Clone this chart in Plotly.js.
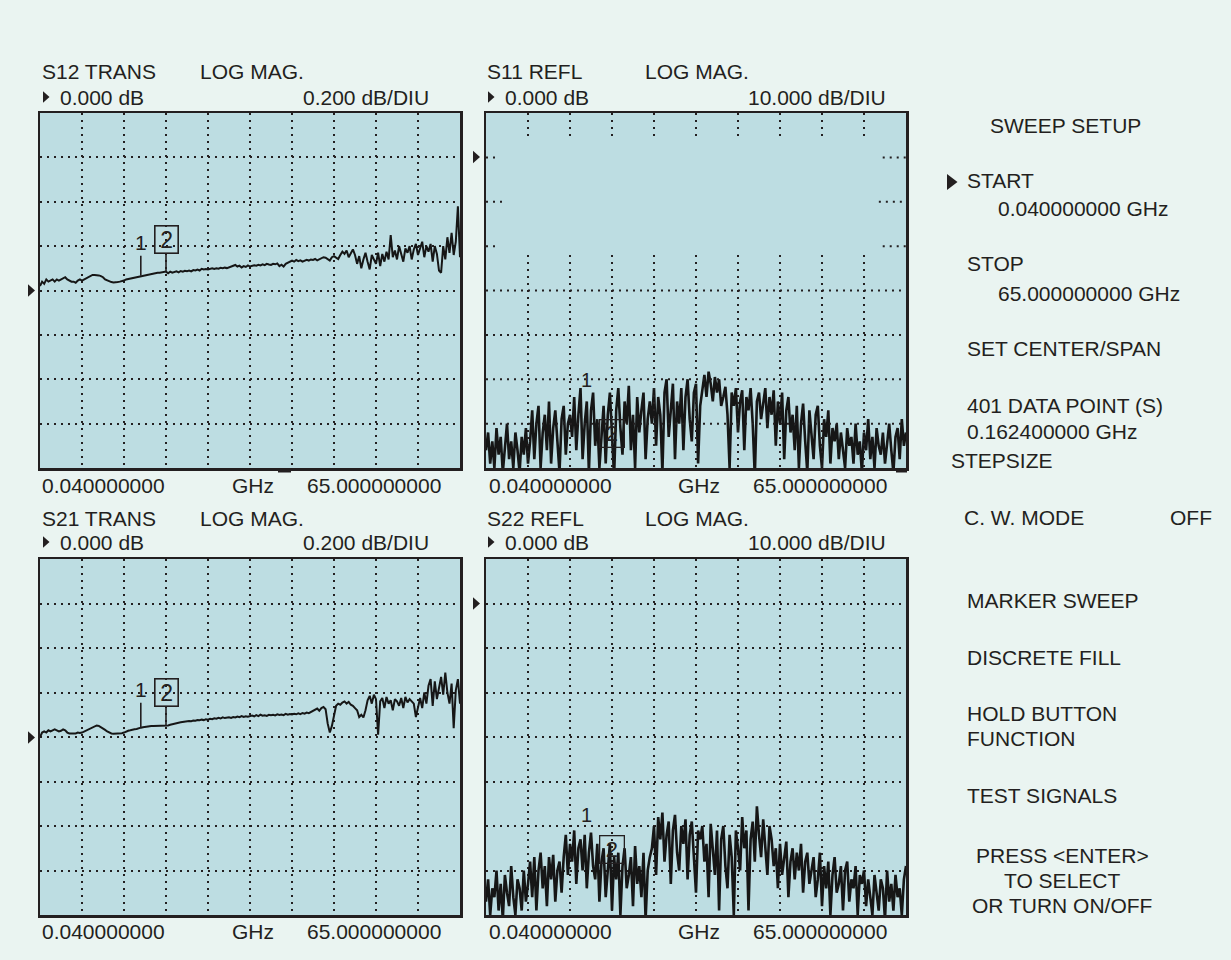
<!DOCTYPE html>
<html>
<head>
<meta charset="utf-8">
<script src="https://cdn.plot.ly/plotly-3.0.1.min.js"></script>
<style>
html,body{margin:0;padding:0;background:#eaf4f1;}
#chart{width:1231px;height:960px;}
</style>
</head>
<body>
<div id="chart"></div>
<script>
// ---- sweep definition ----
const START_GHZ = 0.04;
const STOP_GHZ = 65.0;
const NPTS = 201;

// marker frequencies (GHz)
const MARKER_FREQS = [15.63, 19.53];

// ---- traces (dB) ----
const s12 = [
0.02,0.04,0.03,0.05,0.04,0.045,0.05,0.04,0.05,0.045,0.05,
0.055,0.06,0.05,0.045,0.04,0.04,0.035,0.045,0.05,0.045,
0.05,0.055,0.06,0.065,0.07,0.07,0.07,0.068,0.065,0.06,
0.05,0.045,0.04,0.038,0.036,0.036,0.038,0.04,0.042,0.045,
0.05,0.052,0.055,0.058,0.06,0.062,0.065,0.066,0.068,0.07,
0.072,0.074,0.075,0.076,0.078,0.08,0.08,0.082,0.083,0.085,
0.078,0.085,0.08,0.083,0.086,0.082,0.088,0.085,0.089,0.087,
0.09,0.086,0.092,0.09,0.094,0.09,0.098,0.095,0.097,0.095,
0.098,0.1,0.097,0.1,0.098,0.102,0.1,0.103,0.101,0.104,
0.106,0.11,0.115,0.108,0.112,0.104,0.11,0.106,0.113,0.108,
0.11,0.114,0.112,0.116,0.113,0.118,0.114,0.12,0.117,0.115,
0.12,0.118,0.122,0.11,0.116,0.108,0.12,0.125,0.13,0.135,
0.13,0.138,0.132,0.136,0.13,0.134,0.138,0.135,0.14,0.138,
0.142,0.136,0.14,0.145,0.15,0.148,0.14,0.135,0.15,0.155,
0.148,0.142,0.16,0.175,0.165,0.18,0.15,0.17,0.185,0.16,
0.12,0.155,0.1,0.14,0.17,0.13,0.095,0.16,0.14,0.12,
0.17,0.11,0.165,0.13,0.175,0.14,0.25,0.15,0.18,0.14,
0.2,0.16,0.13,0.19,0.17,0.2,0.14,0.185,0.21,0.16,
0.19,0.22,0.15,0.2,0.175,0.21,0.13,0.2,0.165,0.09,
0.08,0.2,0.14,0.24,0.17,0.26,0.16,0.22,0.38,0.15
];

const s21 = [
0.0,0.02,0.025,0.02,0.03,0.025,0.03,0.034,0.03,0.025,0.028,
0.034,0.03,0.02,0.016,0.016,0.018,0.016,0.02,0.018,0.02,
0.025,0.03,0.035,0.04,0.045,0.05,0.052,0.05,0.045,0.04,
0.032,0.025,0.02,0.016,0.015,0.015,0.016,0.015,0.017,0.02,
0.025,0.028,0.03,0.034,0.035,0.036,0.04,0.042,0.044,0.046,
0.048,0.049,0.049,0.05,0.05,0.049,0.05,0.05,0.049,0.05,
0.052,0.055,0.058,0.06,0.062,0.064,0.066,0.068,0.069,0.07,
0.072,0.071,0.074,0.073,0.076,0.075,0.078,0.076,0.08,0.078,
0.082,0.08,0.084,0.082,0.086,0.083,0.088,0.085,0.087,0.089,
0.086,0.09,0.088,0.092,0.089,0.094,0.09,0.093,0.091,0.094,
0.096,0.093,0.098,0.094,0.1,0.096,0.098,0.095,0.1,0.098,
0.1,0.097,0.102,0.099,0.101,0.098,0.104,0.1,0.103,0.101,
0.104,0.102,0.106,0.103,0.108,0.105,0.11,0.107,0.112,0.116,
0.12,0.128,0.118,0.13,0.135,0.125,0.06,0.02,0.05,0.1,
0.14,0.15,0.145,0.155,0.16,0.15,0.158,0.145,0.14,0.13,
0.12,0.09,0.1,0.088,0.12,0.165,0.185,0.15,0.19,0.17,
0.01,0.16,0.175,0.13,0.18,0.15,0.165,0.12,0.17,0.16,
0.14,0.175,0.13,0.18,0.155,0.17,0.16,0.15,0.09,0.14,
0.175,0.13,0.2,0.15,0.23,0.26,0.14,0.25,0.17,0.22,
0.27,0.19,0.29,0.2,0.15,0.24,0.04,0.21,0.26,0.15
];

const s11 = [
-66,-62,-69,-64,-70,-61,-67,-63,-71,-65,-60,-68,-64,-70,-62,-66,-71,-63,-67,-61,-69,
-64,-57,-68,-60,-56,-70,-62,-58,-66,-55,-69,-61,-57,-65,-71,-59,-56,-67,-60,-58,
-63,-54,-66,-58,-52,-68,-60,-55,-71,-57,-53,-65,-59,-70,-62,
-56,-69,-58,-53,-64,-72,-57,-52,-61,-67,-55,-60,-51.5,-66,-58,-70,-54,-62,-57,-53,-68,-59,-55,
-60,-52,-65,-54,-58,-71,-53,-50,-63,-57,-51,-68,-55,-60,-52,-66,-54,-50,-59,-64,-53,-51,-69,-56,
-52,-49,-54,-48.3,-51,-55,-49.5,-53,-50,-56,
-54,-51.7,-58,-70,-53,-56,-52,-62,-55,-52.5,-66,-54,-57,-52,-60,-72,-55,-53,-59,
-56,-52,-61,-54,-58,-52.5,-65,-55,-60,-53,-68,-57,-54,-62,
-58,-66,-56,-70,-60,-55.5,-64,-71,-57,-62,-68,-58,-56,-65,-70,-59,-63,-57,-69,-61,
-64,-60,-68,-62,-66,-70,-61,-65,-63,-69,-60,-67,-64,-71,-62,-66,-59,-68,-63,-70,
-61,-65,-67,-62,-69,-64,-60,-66,-71,-63,-61,-68,-59,-65,-62
];

const s22 = [
-67,-62,-70,-64,-66,-60,-69,-63,-71,-61,-65,-68,-59,-66,-70,-62,-64,-69,-60,-67,-63,
-58,-66,-57,-69,-60,-56,-64,-59,-68,-57,-62,-56.5,-67,-60,-58,-65,-57,
-52,-61,-54,-58,-51,-63,-55,-53,-60,-52,-64,-56,-51.5,-59,-62,-54,-67,
-58,-55,-66,-60,-54,-69,-57,-62,-56,-70,-59,-55,-64,-61,-57,-68,-54.5,-63,-59,-66,-56,-71,-60,-57,
-55,-50,-61,-48,-53,-47,-58,-52,-49,-63,-51,-47.5,-56,-60,-50,-54,-48.5,-62,-52,-49,-57,-65,-51,-53,
-50,-58,-54,-66,-49.5,-56,-61,-51,-69,-53,-50,-59,-64,-52,-57,-70,-51,-55,-60,
-48,-55,-51,-69,-53,-49,-58,-45.6,-52,-57,-48.5,-54,-61,-50,
-53,-59,-55,-64,-54,-61,-57,-53.5,-66,-58,-55,-62,-56,-60,-54,-65,-58,-56,-63,
-60,-57,-66,-62,-56,-68,-59,-64,-58,-70,-61,-57,-65,-63,-59,-69,-60,-58,-67,-62,-64,-59,-70,-61,
-63,-60,-68,-62,-66,-70,-61,-65,-69,-62,-64,-71,-60,-67,-63,-69,-61,-66,-64,-70,-62,-59
];

// ---- panel texts ----
const PANEL_TITLES = ['S12 TRANS','S11 REFL','S21 TRANS','S22 REFL'];
const PANEL_FORMAT = 'LOG MAG.';
const PANEL_REF = '0.000 dB';
const PANEL_SCALE = ['0.200 dB/DIU','10.000 dB/DIU','0.200 dB/DIU','10.000 dB/DIU'];
const X_LABELS = ['0.040000000','GHz','65.000000000'];

const MENU_ITEMS = [
 ['SWEEP SETUP',988,125],
 ['START',965,181],
 ['0.040000000 GHz',996,208],
 ['STOP',965,263],
 ['65.000000000 GHz',996,293],
 ['SET CENTER/SPAN',965,348],
 ['401 DATA POINT (S)',965,405],
 ['0.162400000 GHz',965,432],
 ['STEPSIZE',949,460],
 ['C. W. MODE',962,517],
 ['OFF',1168,517],
 ['MARKER SWEEP',965,600],
 ['DISCRETE FILL',965,657],
 ['HOLD BUTTON',965,713],
 ['FUNCTION',965,738],
 ['TEST SIGNALS',965,795]
];
const MENU_CENTERED = [
 ['PRESS &lt;ENTER&gt;',1062,855],
 ['TO SELECT',1062,880],
 ['OR TURN ON/OFF',1062,905]
];

// ---- build ----
const W = 1231, H = 960;
const INK = '#231f20';
const FONT = 'Liberation Sans, Arial, Helvetica, sans-serif';
const px = x => x / W;
const py = y => 1 - y / H;

const freq = [];
for (let i = 0; i < NPTS; i++) freq.push(START_GHZ + i * (STOP_GHZ - START_GHZ) / (NPTS - 1));
const nearest = f => Math.round((f - START_GHZ) / ((STOP_GHZ - START_GHZ) / (NPTS - 1)));
const mIdx = MARKER_FREQS.map(nearest);

const xGrid = [];
for (let k = 1; k < 10; k++) xGrid.push(START_GHZ + k * (STOP_GHZ - START_GHZ) / 10);

const traceStyle = w => ({color:'#161616', width:w});
const data = [
 {x:freq, y:s12, xaxis:'x', yaxis:'y', mode:'lines', line:traceStyle(2.0), hoverinfo:'skip'},
 {x:freq, y:s11, xaxis:'x2', yaxis:'y2', mode:'lines', line:traceStyle(2.6), hoverinfo:'skip'},
 {x:freq, y:s21, xaxis:'x3', yaxis:'y3', mode:'lines', line:traceStyle(2.0), hoverinfo:'skip'},
 {x:freq, y:s22, xaxis:'x4', yaxis:'y4', mode:'lines', line:traceStyle(2.6), hoverinfo:'skip'}
];

const DOT = '2px,5px';
const colL = [px(40), px(460)], colR = [px(486), px(906)];
const rowT = [py(468), py(113)], rowB = [py(915), py(559)];

function xax(domain, anchor, grid) {
  return {domain, anchor, range:[START_GHZ, STOP_GHZ], showgrid:grid, gridcolor:INK, gridwidth:2,
    griddash:DOT, tickvals:xGrid, showticklabels:false, ticks:'', showline:true, mirror:true,
    linecolor:INK, linewidth:2.5, zeroline:false, fixedrange:true};
}
function yax(domain, anchor, range, dtick, grid) {
  const tv = [];
  for (let v = range[0] + dtick; v < range[1] - dtick / 2; v += dtick) tv.push(+v.toFixed(6));
  return {domain, anchor, range, showgrid:grid, gridcolor:INK, gridwidth:2, griddash:DOT,
    tickvals:tv, showticklabels:false, ticks:'', showline:true, mirror:true,
    linecolor:INK, linewidth:2.5, zeroline:false, fixedrange:true};
}

const annotations = [];
function txt(t, x, y, anchor, size) {
  annotations.push({xref:'paper', yref:'paper', x:px(x), y:py(y), text:t, showarrow:false,
    xanchor:anchor || 'left', yanchor:'middle', font:{family:FONT, size:size || 21, color:INK}});
}

const shapes = [];
function tri(x, y, w, h) {
  shapes.push({type:'path', xref:'paper', yref:'paper', xsizemode:'pixel', ysizemode:'pixel',
    xanchor:px(x), yanchor:py(y), path:`M0,${-h/2} L${w},0 L0,${h/2} Z`,
    fillcolor:INK, line:{width:0}});
}
function rect(x0, y0, x1, y1) {
  shapes.push({type:'rect', xref:'paper', yref:'paper', x0:px(x0), x1:px(x1), y0:py(y1), y1:py(y0),
    fillcolor:INK, line:{width:0}});
}

// panel header / footer texts
const panelPos = [
  {x:40, top:72, ref:97, scaleR:431, foot:485, arrowX:28, arrowY:290.6},
  {x:485, top:72, ref:97, scaleR:888, foot:485, arrowX:473, arrowY:157},
  {x:40, top:518, ref:542, scaleR:431, foot:931, arrowX:28, arrowY:737.5},
  {x:485, top:518, ref:542, scaleR:888, foot:931, arrowX:473, arrowY:603.5}
];
panelPos.forEach((p, i) => {
  txt(PANEL_TITLES[i], p.x, p.top);
  txt(PANEL_FORMAT, p.x + 158, p.top);
  tri(p.x + 3, p.ref, 6.5, 11.5);
  txt(PANEL_REF, p.x + 18, p.ref);
  txt(PANEL_SCALE[i], p.scaleR, p.ref, 'right');
  const x0 = (i % 2 === 0) ? 40 : 486.5;
  txt(X_LABELS[0], x0, p.foot);
  txt(X_LABELS[1], x0 + 189.5, p.foot);
  txt(X_LABELS[2], x0 + 264.5, p.foot);
  tri(p.arrowX, p.arrowY, 7, 12.5);
});

MENU_ITEMS.forEach(m => txt(m[0], m[1], m[2]));
MENU_CENTERED.forEach(m => txt(m[0], m[1], m[2], 'center'));
tri(947, 182, 10.5, 16);

// small marks below the frames
rect(278, 468, 291, 472.5);
rect(896, 468, 907, 472.5);

// markers
function markerPair(xr, yr, arr, ay1, ay2) {
  annotations.push({xref:xr, yref:yr, x:freq[mIdx[0]], y:arr[mIdx[0]], text:'1', showarrow:true,
    arrowhead:0, arrowwidth:1.6, arrowcolor:INK, ax:0, ay:ay1, standoff:0,
    font:{family:FONT, size:21, color:INK}});
  annotations.push({xref:xr, yref:yr, x:freq[mIdx[1]], y:arr[mIdx[1]], text:'2', showarrow:true,
    arrowhead:0, arrowwidth:1.6, arrowcolor:INK, ax:0, ay:ay2, standoff:0,
    bordercolor:INK, borderwidth:1.6, borderpad:2, width:18, height:22,
    font:{family:FONT, size:23, color:INK}});
}
markerPair('x', 'y', s12, -33, -32);
markerPair('x3', 'y3', s21, -38, -33);

// reflection-panel marker labels
function markerText(xr, yr, f, v, t, boxed) {
  const a = {xref:xr, yref:yr, x:f, y:v, text:t, showarrow:false, xanchor:'center', yanchor:'middle',
    font:{family:FONT, size:boxed ? 22 : 20, color:INK}};
  if (boxed) Object.assign(a, {bordercolor:INK, borderwidth:1.3, borderpad:2, width:19, height:22});
  annotations.push(a);
}
markerText('x2', 'y2', MARKER_FREQS[0], -50.2, '1', false);
markerText('x2', 'y2', MARKER_FREQS[1], -62.2, '2', true);
markerText('x4', 'y4', MARKER_FREQS[0], -47.5, '1', false);
markerText('x4', 'y4', MARKER_FREQS[1], -55.2, '2', true);

// partially erased grid of S11 panel
const gl = {color:INK, width:2, dash:DOT};
xGrid.forEach(xv => {
  shapes.push({type:'line', xref:'x2', yref:'y2', x0:xv, x1:xv, y0:10, y1:4.4, line:gl});
  shapes.push({type:'line', xref:'x2', yref:'y2', x0:xv, x1:xv, y0:-22, y1:-70, line:gl});
});
[-30, -40, -50, -60].forEach(yv => {
  shapes.push({type:'line', xref:'x2', yref:'y2', x0:START_GHZ, x1:STOP_GHZ, y0:yv, y1:yv, line:gl});
});
[[0, 2.0, 61.4], [-10, 2.6, 60.8], [-20, 2.0, 61.4]].forEach(s => {
  shapes.push({type:'line', xref:'x2', yref:'y2', x0:START_GHZ, x1:s[1], y0:s[0], y1:s[0], line:gl});
  shapes.push({type:'line', xref:'x2', yref:'y2', x0:s[2], x1:STOP_GHZ, y0:s[0], y1:s[0], line:gl});
});

const layout = {
  width:W, height:H, margin:{l:0, r:0, t:0, b:0},
  paper_bgcolor:'#eaf4f1', plot_bgcolor:'#bddde2', showlegend:false,
  font:{family:FONT, color:INK},
  xaxis:xax(colL, 'y', true),  yaxis:yax(rowT, 'x', [-0.8, 0.8], 0.2, true),
  xaxis2:xax(colR, 'y2', false), yaxis2:yax(rowT, 'x2', [-70, 10], 10, false),
  xaxis3:xax(colL, 'y3', true), yaxis3:yax(rowB, 'x3', [-0.8, 0.8], 0.2, true),
  xaxis4:xax(colR, 'y4', true), yaxis4:yax(rowB, 'x4', [-70, 10], 10, true),
  annotations, shapes
};

Plotly.newPlot('chart', data, layout, {displayModeBar:false, staticPlot:true});
</script>
</body>
</html>
